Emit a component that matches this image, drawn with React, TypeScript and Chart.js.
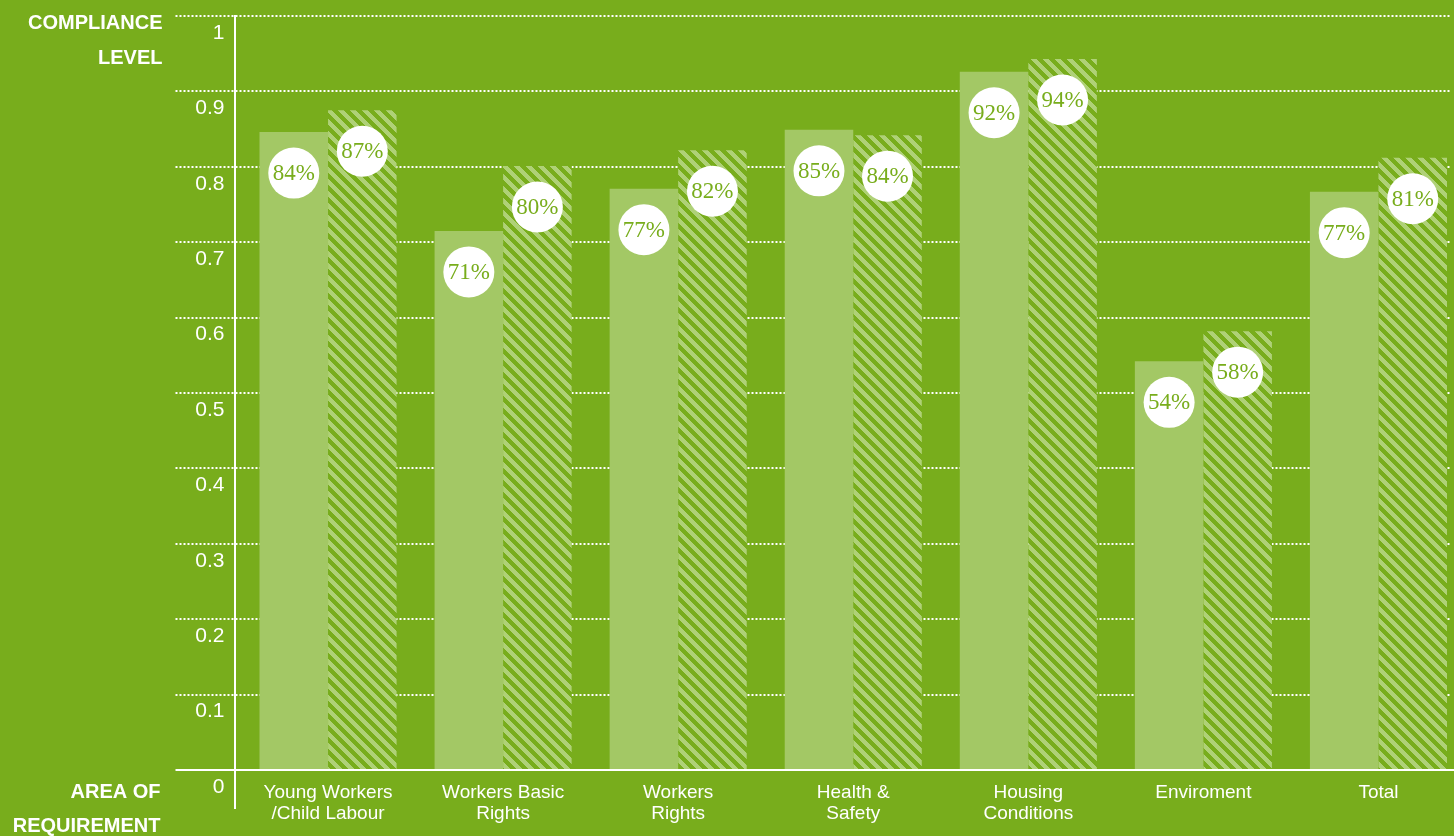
import React, { useEffect, useRef } from "react";
import { Chart, registerables } from "chart.js";

Chart.register(...registerables);

// ---------- data ----------
const categories: string[][] = [
  ["Young Workers", "/Child Labour"],
  ["Workers Basic", "Rights"],
  ["Workers", "Rights"],
  ["Health &", "Safety"],
  ["Housing", "Conditions"],
  ["Enviroment"],
  ["Total"],
];
const seriesPrev = [0.846, 0.715, 0.771, 0.849, 0.926, 0.542, 0.767];
const seriesCurr = [0.875, 0.801, 0.822, 0.842, 0.943, 0.582, 0.812];
const labelsPrev = ["84%", "71%", "77%", "85%", "92%", "54%", "77%"];
const labelsCurr = ["87%", "80%", "82%", "84%", "94%", "58%", "81%"];
const yTicks = [0, 0.1, 0.2, 0.3, 0.4, 0.5, 0.6, 0.7, 0.8, 0.9, 1];
const yTitle = ["COMPLIANCE", "LEVEL"];
const xTitle = ["AREA OF", "REQUIREMENT"];

// ---------- style ----------
const BG = "#78AD1C";
const LIGHT = "#A3C865";
const STRIPE = "#AFD177";
const WHITE = "#FFFFFF";
const SANS = "'Liberation Sans', Arial, sans-serif";
const SERIF = "'Liberation Serif', 'Times New Roman', serif";

function hexToRgb(h: string): number[] {
  const n = parseInt(h.slice(1), 16);
  return [(n >> 16) & 255, (n >> 8) & 255, n & 255];
}

function makeHatch(ctx: CanvasRenderingContext2D): CanvasPattern | string {
  const s = 12;
  const w = 6;
  const c = document.createElement("canvas");
  c.width = s;
  c.height = s;
  const g = c.getContext("2d");
  if (!g) return STRIPE;
  const img = g.createImageData(s, s);
  const a = hexToRgb(BG);
  const b = hexToRgb(STRIPE);
  for (let yy = 0; yy < s; yy++) {
    for (let xx = 0; xx < s; xx++) {
      const k = (((xx - yy) % s) + s) % s;
      const col = k < w ? b : a;
      const idx = (yy * s + xx) * 4;
      img.data[idx] = col[0];
      img.data[idx + 1] = col[1];
      img.data[idx + 2] = col[2];
      img.data[idx + 3] = 255;
    }
  }
  g.putImageData(img, 0, 0);
  return ctx.createPattern(c, "repeat") || STRIPE;
}

const decoPlugin = {
  id: "deco",
  beforeDatasetsDraw(chart: any) {
    const { ctx, chartArea, scales } = chart;
    const y = scales.y;
    ctx.save();
    ctx.strokeStyle = WHITE;
    ctx.lineWidth = 2;
    ctx.setLineDash([2, 2]);
    for (const v of yTicks) {
      if (v === 0) continue;
      const py = Math.round(y.getPixelForValue(v));
      ctx.beginPath();
      ctx.moveTo(chartArea.left - 65, py);
      ctx.lineTo(chartArea.right - 16, py);
      ctx.stroke();
    }
    ctx.restore();
  },
  afterDatasetsDraw(chart: any) {
    const { ctx, chartArea, scales } = chart;
    const y = scales.y;
    const base = Math.round(y.getPixelForValue(0));
    ctx.save();
    ctx.strokeStyle = WHITE;
    ctx.lineWidth = 2;
    ctx.setLineDash([]);
    // baseline
    ctx.beginPath();
    ctx.moveTo(chartArea.left - 65, base);
    ctx.lineTo(chart.width, base);
    ctx.stroke();
    // vertical axis line
    const ax = Math.round(chartArea.left - 5.5);
    ctx.beginPath();
    ctx.moveTo(ax, chartArea.top - 1);
    ctx.lineTo(ax, chartArea.bottom + 39);
    ctx.stroke();

    // value badges
    const lbls = [labelsPrev, labelsCurr];
    lbls.forEach((arr, di) => {
      const meta = chart.getDatasetMeta(di);
      meta.data.forEach((bar: any, i: number) => {
        const cx = bar.x;
        const cy = bar.y + 41;
        ctx.beginPath();
        ctx.fillStyle = WHITE;
        ctx.arc(cx, cy, 25.5, 0, Math.PI * 2);
        ctx.fill();
        ctx.fillStyle = BG;
        ctx.font = `23px ${SERIF}`;
        ctx.textAlign = "center";
        ctx.textBaseline = "middle";
        ctx.fillText(arr[i], cx, cy + 1);
      });
    });

    // axis titles
    ctx.fillStyle = WHITE;
    ctx.font = `bold 20px ${SANS}`;
    ctx.textAlign = "right";
    ctx.textBaseline = "middle";
    const tx = chartArea.left - 78;
    ctx.fillText(yTitle[0], tx, chartArea.top + 7);
    ctx.fillText(yTitle[1], tx, chartArea.top + 42.5);
    ctx.fillText(xTitle[0], tx - 2, chartArea.bottom + 22);
    ctx.fillText(xTitle[1], tx - 2, chartArea.bottom + 56);
    ctx.restore();
  },
};

export default function App() {
  const canvasRef = useRef<HTMLCanvasElement | null>(null);

  useEffect(() => {
    const canvas = canvasRef.current;
    if (!canvas) return;
    const ctx = canvas.getContext("2d");
    if (!ctx) return;
    const hatch = makeHatch(ctx);

    const chart = new Chart(ctx, {
      type: "bar",
      data: {
        labels: categories,
        datasets: [
          {
            label: "Previous",
            data: seriesPrev,
            backgroundColor: LIGHT,
            borderWidth: 0,
            categoryPercentage: 0.783,
            barPercentage: 1,
          },
          {
            label: "Current",
            data: seriesCurr,
            backgroundColor: hatch as any,
            borderWidth: 0,
            categoryPercentage: 0.783,
            barPercentage: 1,
          },
        ],
      },
      options: {
        responsive: false,
        animation: false,
        devicePixelRatio: 1,
        layout: { padding: { top: 16, left: 0, right: 0, bottom: 0 } },
        plugins: {
          legend: { display: false },
          tooltip: { enabled: false },
        },
        scales: {
          x: {
            grid: { display: false, drawTicks: false },
            border: { display: false },
            ticks: {
              color: WHITE,
              font: { family: SANS, size: 19, lineHeight: 1.1 },
              padding: 12,
              maxRotation: 0,
              autoSkip: false,
            },
            afterFit: (s: any) => {
              s.height = 66;
              s.paddingLeft = 0;
              s.paddingRight = 0;
            },
          },
          y: {
            min: 0,
            max: 1,
            grid: { display: false, drawTicks: false },
            border: { display: false },
            afterBuildTicks: (s: any) => {
              s.ticks = yTicks.map((v) => ({ value: v }));
            },
            ticks: {
              color: WHITE,
              font: { family: SANS, size: 21 },
              padding: 16,
              labelOffset: 17,
              callback: (v: any) => String(v),
            },
            afterFit: (s: any) => {
              s.width = 240.5;
              s.paddingTop = 0;
              s.paddingBottom = 0;
            },
          },
        },
      },
      plugins: [decoPlugin],
    });

    return () => chart.destroy();
  }, []);

  return (
    <div
      style={{
        position: "fixed",
        left: 0,
        top: 0,
        width: "100vw",
        height: "100vh",
        background: BG,
        overflow: "hidden",
      }}
    >
      <canvas
        ref={canvasRef}
        width={1466}
        height={836}
        style={{ display: "block", width: 1466, height: 836 }}
      />
    </div>
  );
}
